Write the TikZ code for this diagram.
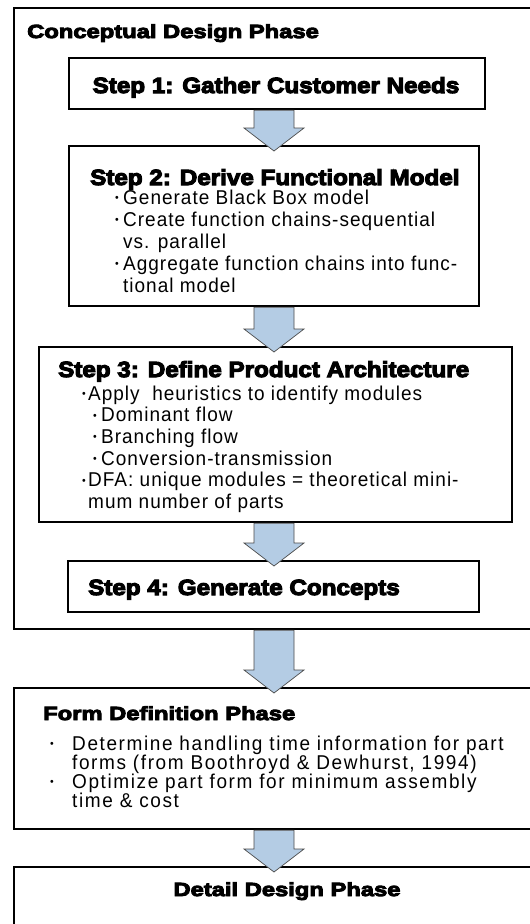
\documentclass[tikz,border=0pt]{standalone}
\usepackage{fontspec}
\usetikzlibrary{calc}
\newfontfamily\phasefont[FakeStretch=1.25,FakeBold=5]{Liberation Sans Bold}
\newfontfamily\stepfont[FakeStretch=1.1,FakeBold=5]{Liberation Sans Bold}
\newfontfamily\bodyfont[FakeStretch=0.95,LetterSpace=5]{Liberation Sans}
\newfontfamily\formfont[FakeStretch=0.95,LetterSpace=8]{Liberation Sans}
\definecolor{arrowblue}{RGB}{180,204,228}
\newcommand\blt{\makebox[8pt][l]{\raisebox{2.5pt}{\fontsize{11}{11}\selectfont •}}}
\newcommand\bltt{\makebox[6pt][l]{\raisebox{2.5pt}{\fontsize{11}{11}\selectfont •}}}
\newcommand\ind{\hspace*{8pt}}
\tikzset{
  box/.style={draw, line width=1.5pt, inner sep=0pt, anchor=north west},
  phase/.style={inner sep=0pt, anchor=base west, font=\phasefont\fontsize{19}{19}\selectfont},
  steptitle/.style={inner sep=0pt, anchor=base west, font=\stepfont\fontsize{22}{22}\selectfont},
  body/.style={inner sep=0pt, anchor=base west, font=\bodyfont\fontsize{20}{20}\selectfont},
  formbody/.style={body, font=\formfont\fontsize{20}{20}\selectfont},
  fatarrow/.style={fill=arrowblue, draw=black!70, line width=0.7pt,
    to path={let \p1=(\tikztostart), \p2=(\tikztotarget) in
      (\x1-20pt,\y1-0.8pt) -- (\x1+20pt,\y1-0.8pt) -- (\x1+20pt,\y2+17pt) -- (\x1+30pt,\y2+17pt)
      -- (\x1,\y2-6pt) -- (\x1-30pt,\y2+17pt) -- (\x1-20pt,\y2+17pt) -- cycle}}
}

\begin{document}
\begin{tikzpicture}[x=1pt, y=-1pt]
  \useasboundingbox[fill=white] (0,0) rectangle (530,924);

  % 1. Phase frames (run off the right edge)
  \node[box, minimum width=540pt, minimum height=621pt] (concept) at (13,7) {};
  \node[box, minimum width=540pt, minimum height=141pt] (form) at (13,687) {};
  \node[box, minimum width=540pt, minimum height=80pt] (detail) at (13,866) {};

  % 2. Step boxes
  \node[box, minimum width=416pt, minimum height=51pt] (step1) at (68,57) {};
  \node[box, minimum width=410pt, minimum height=160pt] (step2) at (68,145) {};
  \node[box, minimum width=473pt, minimum height=175pt] (step3) at (38,346) {};
  \node[box, minimum width=411pt, minimum height=51pt] (step4) at (67,560) {};

  % 3. Titles
  \node[phase] (ctitle) at (27,38) {Conceptual Design Phase};
  \node[steptitle, anchor=base] (s1title) at (276,93) {Step 1: Gather Customer Needs};
  \node[steptitle] (s2title) at (90,185) {Step 2: Derive Functional Model};
  \node[steptitle] (s3title) at (58,377) {Step 3: Define Product Architecture};
  \node[steptitle] (s4title) at (88,595) {Step 4: Generate Concepts};
  \node[phase] (ftitle) at (43,720) {Form Definition Phase};
  \node[phase, anchor=base] (dtitle) at (287,896) {Detail Design Phase};

  % 4. Bullet lists
  \foreach \txt [count=\i] in {{\blt Generate Black Box model},
      {\blt Create function chains-sequential}, {\ind vs. parallel},
      {\blt Aggregate function chains into func-}, {\ind tional model}}
    \node[body] (s2l\i) at (115,{204+22*(\i-1)}) {\txt};

  \foreach \txt [count=\i] in {{\bltt Apply\ \ heuristics to identify modules},
      {\hspace*{11pt}\blt Dominant flow}, {\hspace*{11pt}\blt Branching flow},
      {\hspace*{11pt}\blt Conversion-transmission},
      {\bltt DFA: unique modules = theoretical mini-}, {\hspace*{6pt}mum number of parts}}
    \node[body] (s3l\i) at (82,{400+21.7*(\i-1)}) {\txt};

  \foreach \txt [count=\i] in {{\makebox[22pt][l]{\blt}Determine handling time information for part},
      {\hspace*{22pt}forms (from Boothroyd \& Dewhurst, 1994)},
      {\makebox[22pt][l]{\blt}Optimize part form for minimum assembly},
      {\hspace*{22pt}time \& cost}}
    \node[formbody] (fl\i) at (50,{750+19*(\i-1)}) {\txt};

  % 5. Block arrows between boxes
  \coordinate (axis) at (274,0);
  \draw[fatarrow] (step1.south -| axis) to (step2.north -| axis);
  \draw[fatarrow] (step2.south -| axis) to (step3.north -| axis);
  \draw[fatarrow] (step3.south -| axis) to (step4.north -| axis);
  \draw[fatarrow] (concept.south -| axis) to (form.north -| axis);
  \draw[fatarrow] (form.south -| axis) to (detail.north -| axis);
\end{tikzpicture}
\end{document}
